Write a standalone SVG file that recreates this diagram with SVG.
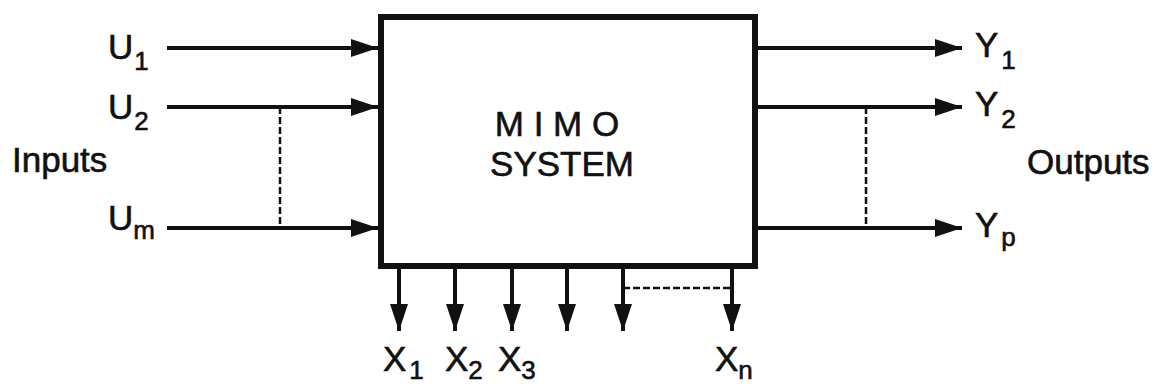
<svg xmlns="http://www.w3.org/2000/svg" width="1153" height="385" viewBox="0 0 1153 385">
  <style>
    text { font-family: "Liberation Sans", Arial, sans-serif; fill: #111; stroke: #111; stroke-width: 0.6; }
    .lbl { font-size: 35px; }
    .sub { font-size: 26px; }
    .wire { stroke: #111; stroke-width: 4; fill: none; }
    .dash { stroke: #111; stroke-width: 2.5; stroke-dasharray: 7 3; fill: none; }
    .box { stroke: #111; stroke-width: 6; fill: #fff; }
  </style>
  <defs>
    <marker id="arr" markerUnits="userSpaceOnUse" markerWidth="27" markerHeight="18" refX="27" refY="9" orient="auto">
      <path d="M0,0 L27,9 L0,18 Z" fill="#111"/>
    </marker>
  </defs>

  <g id="mimo-system">
    <rect class="box" x="381" y="17" width="374" height="249"/>
    <text class="lbl" x="557" y="136" text-anchor="middle">M I M O</text>
    <text class="lbl" x="562" y="176" text-anchor="middle">SYSTEM</text>
  </g>

  <g id="connectors">
    <line class="wire" x1="167" y1="48" x2="378" y2="48" marker-end="url(#arr)"/>
    <line class="wire" x1="167" y1="107" x2="378" y2="107" marker-end="url(#arr)"/>
    <line class="wire" x1="167" y1="228" x2="378" y2="228" marker-end="url(#arr)"/>
    <line class="dash" x1="280" y1="107" x2="280" y2="228"/>

    <line class="wire" x1="758" y1="48" x2="962" y2="48" marker-end="url(#arr)"/>
    <line class="wire" x1="758" y1="107" x2="962" y2="107" marker-end="url(#arr)"/>
    <line class="wire" x1="758" y1="228" x2="962" y2="228" marker-end="url(#arr)"/>
    <line class="dash" x1="866" y1="107" x2="866" y2="228"/>

    <line class="wire" x1="399" y1="268" x2="399" y2="331" marker-end="url(#arr)"/>
    <line class="wire" x1="455" y1="268" x2="455" y2="331" marker-end="url(#arr)"/>
    <line class="wire" x1="512" y1="268" x2="512" y2="331" marker-end="url(#arr)"/>
    <line class="wire" x1="567" y1="268" x2="567" y2="331" marker-end="url(#arr)"/>
    <line class="wire" x1="623" y1="268" x2="623" y2="331" marker-end="url(#arr)"/>
    <line class="wire" x1="732" y1="268" x2="732" y2="331" marker-end="url(#arr)"/>
    <line class="dash" x1="623" y1="288" x2="732" y2="288"/>
  </g>

  <g id="inputs">
    <text class="lbl" x="12" y="172">Inputs</text>
    <text class="lbl" x="108" y="59">U<tspan class="sub" dx="1" dy="11">1</tspan></text>
    <text class="lbl" x="108" y="119">U<tspan class="sub" dx="1" dy="11">2</tspan></text>
    <text class="lbl" x="108" y="230">U<tspan class="sub" dy="9">m</tspan></text>
  </g>

  <g id="outputs">
    <text class="lbl" x="1027" y="174">Outputs</text>
    <text class="lbl" x="975" y="57">Y<tspan class="sub" dx="3" dy="12">1</tspan></text>
    <text class="lbl" x="975" y="116">Y<tspan class="sub" dx="3" dy="12">2</tspan></text>
    <text class="lbl" x="975" y="237">Y<tspan class="sub" dx="3" dy="9">p</tspan></text>
  </g>

  <g id="states">
    <text class="lbl" x="383" y="371">X<tspan class="sub" dx="3" dy="8">1</tspan></text>
    <text class="lbl" x="445" y="371">X<tspan class="sub" dy="8">2</tspan></text>
    <text class="lbl" x="498" y="371">X<tspan class="sub" dy="8">3</tspan></text>
    <text class="lbl" x="715" y="371">X<tspan class="sub" dy="8">n</tspan></text>
  </g>
</svg>
